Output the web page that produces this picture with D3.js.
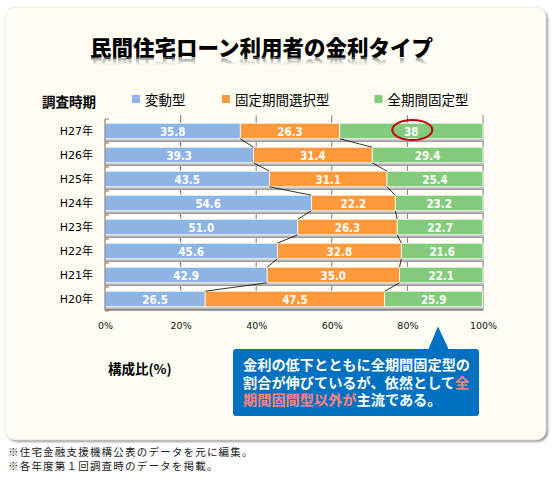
<!DOCTYPE html>
<html><head><meta charset="utf-8">
<script src="https://cdn.jsdelivr.net/npm/d3@7"></script>
<style>
html,body{margin:0;padding:0;background:#fff;}
svg{display:block;}
</style></head>
<body>
<script>
const categories = ["H27年","H26年","H25年","H24年","H23年","H22年","H21年","H20年"];
const seriesNames = ["変動型","固定期間選択型","全期間固定型"];
const variable   = ["35.8","39.3","43.5","54.6","51.0","45.6","42.9","26.5"];
const fixedTerm  = ["26.3","31.4","31.1","22.2","26.3","32.8","35.0","47.5"];
const fullFixed  = ["38","29.4","25.4","23.2","22.7","21.6","22.1","25.9"];
const xTicks = [0,20,40,60,80,100];
const colors = ["#8EB4E3","#FF9A3C","#84CB7E"];
const title = "民間住宅ローン利用者の金利タイプ";
const yTitle = "調査時期";
const xTitle = "構成比(%)";
const noteLines = [
  [{t:"金利の低下とともに全期間固定型の"}],
  [{t:"割合が伸びているが、依然として"},{t:"全",p:1}],
  [{t:"期間固間型以外が",p:1},{t:"主流である。"}]
];
const footnotes = ["※住宅金融支援機構公表のデータを元に編集。","※各年度第１回調査時のデータを掲載。"];

const W=555,H=479;
const JP = "'Noto Sans CJK JP', sans-serif";
const svg = d3.select("body").append("svg").attr("width",W).attr("height",H);
const defs = svg.append("defs");
const f = defs.append("filter").attr("id","sh").attr("x","-5%").attr("y","-5%").attr("width","110%").attr("height","110%");
f.append("feGaussianBlur").attr("stdDeviation",1.2);
const g1 = defs.append("linearGradient").attr("id","fade").attr("x1",0).attr("y1",0).attr("x2",0).attr("y2",1);
g1.append("stop").attr("offset","0").attr("stop-color","#fff").attr("stop-opacity",0.7);
g1.append("stop").attr("offset","0.5").attr("stop-color","#fff").attr("stop-opacity",0);
const mask = defs.append("mask").attr("id","refl").attr("maskContentUnits","userSpaceOnUse");
mask.append("rect").attr("x",0).attr("y",57).attr("width",W).attr("height",16).attr("fill","url(#fade)");

// panel
svg.append("rect").attr("x",7).attr("y",9).attr("width",541).attr("height",433).attr("rx",10)
  .attr("fill","#9a9a9a").attr("filter","url(#sh)");
svg.append("rect").attr("x",5).attr("y",7).attr("width",541).attr("height",433).attr("rx",10)
  .attr("fill","#FEFEF5").attr("stroke","#e4e4dc").attr("stroke-width",0.8);

// title with reflection
svg.append("text").attr("x",261.5).attr("y",56).attr("text-anchor","middle")
  .attr("font-family",JP).attr("font-weight",900).attr("font-size",21.5).attr("fill","#000").text(title);
svg.append("g").attr("mask","url(#refl)").append("text")
  .attr("x",261.5).attr("y",-59).attr("transform","scale(1,-1)").attr("text-anchor","middle")
  .attr("font-family",JP).attr("font-weight",900).attr("font-size",21.5).attr("fill","#666").text(title);

// data
const data = categories.map((c,i)=>({cat:c, vals:[+variable[i],+fixedTerm[i],+fullFixed[i]], labels:[variable[i],fixedTerm[i],fullFixed[i]]}));
data.forEach(d=>{let s=0; d.segs=d.vals.map((v,k)=>{const o={k,x0:s,x1:s+v,label:d.labels[k]}; s+=v; return o;});});

const x = d3.scaleLinear().domain([0,100]).range([105,483]);
const y = d3.scaleBand().domain(categories).range([119,311]).paddingInner(0.35).paddingOuter(0.175);

// gridlines
svg.append("g").selectAll("line").data(xTicks.slice(1)).join("line")
  .attr("x1",d=>x(d)).attr("x2",d=>x(d)).attr("y1",115).attr("y2",310)
  .attr("stroke","#808080").attr("stroke-width",1);

// bar shadows
svg.append("g").selectAll("rect").data(data).join("rect")
  .attr("x",x(0)).attr("y",d=>y(d.cat)+y.bandwidth()).attr("width",x(100)-x(0)).attr("height",3)
  .attr("fill","#c4c4c4");
svg.append("g").selectAll("rect").data(data).join("rect")
  .attr("x",x(0)).attr("y",d=>y(d.cat)+y.bandwidth()+2).attr("width",x(100)-x(0)).attr("height",1.2)
  .attr("fill","#9a9a9a");

// bars
const rows = svg.append("g").selectAll("g").data(data).join("g");
rows.selectAll("rect").data(d=>d.segs.map(s=>({...s,cat:d.cat}))).join("rect")
  .attr("x",s=>x(s.x0)).attr("y",s=>y(s.cat)).attr("width",s=>x(Math.min(s.x1,100))-x(s.x0))
  .attr("height",y.bandwidth()).attr("fill",s=>colors[s.k]).attr("stroke","#fff").attr("stroke-width",0.8);
rows.selectAll("text").data(d=>d.segs.map(s=>({...s,cat:d.cat}))).join("text")
  .attr("x",s=>x((s.x0+Math.min(s.x1,100))/2)).attr("y",s=>y(s.cat)+y.bandwidth()/2+4.6)
  .attr("text-anchor","middle").attr("font-family","'DejaVu Sans Condensed','DejaVu Sans',sans-serif")
  .attr("font-stretch","condensed").attr("font-weight",700).attr("font-size",11.5).attr("fill","#fff")
  .text(s=>s.label);

// series lines
const conn=[];
for(let i=0;i<data.length-1;i++){
  for(let k=0;k<2;k++){
    conn.push({xa:data[i].segs[k].x1, ya:y(data[i].cat)+y.bandwidth(), xb:data[i+1].segs[k].x1, yb:y(data[i+1].cat)});
  }
}
svg.append("g").selectAll("line").data(conn).join("line")
  .attr("x1",d=>x(d.xa)).attr("y1",d=>d.ya).attr("x2",d=>x(d.xb)).attr("y2",d=>d.yb)
  .attr("stroke","#000").attr("stroke-width",0.8);

// axes
svg.append("line").attr("x1",x(0)).attr("x2",x(0)).attr("y1",119).attr("y2",310.5).attr("stroke","#808080").attr("stroke-width",1.2);
svg.append("line").attr("x1",x(0)).attr("x2",x(100)).attr("y1",310).attr("y2",310).attr("stroke","#808080").attr("stroke-width",1.5);
const bounds = d3.range(categories.length+1).map(i=>119+i*y.step());
svg.append("g").selectAll("line").data(bounds).join("line")
  .attr("x1",x(0)).attr("x2",x(0)+4).attr("y1",d=>d).attr("y2",d=>d).attr("stroke","#808080");

const xa = svg.append("g").attr("transform","translate(0,310)")
  .call(d3.axisBottom(x).tickValues(xTicks).tickFormat(d=>d+"%").tickSize(0).tickPadding(12.5));
xa.select(".domain").remove();
xa.selectAll("text").attr("font-family","'DejaVu Sans',sans-serif").attr("font-size",9.5).attr("fill","#111");

const ya = svg.append("g").attr("transform","translate(105,0)")
  .call(d3.axisLeft(y).tickSize(0).tickPadding(12));
ya.select(".domain").remove();
ya.selectAll("text").attr("font-family","'DejaVu Sans','Noto Sans CJK JP',sans-serif").attr("font-size",11).attr("fill","#000");

// axis titles
svg.append("text").attr("x",42).attr("y",107).attr("font-family",JP).attr("font-weight",700).attr("font-size",13.5).text(yTitle);
svg.append("text").attr("x",108).attr("y",374).attr("font-family",JP).attr("font-weight",700).attr("font-size",13.5).text(xTitle);

// legend
const legX=[132,222,374.5];
const lg = svg.append("g").selectAll("g").data(seriesNames).join("g").attr("transform",(d,i)=>`translate(${legX[i]},0)`);
lg.append("rect").attr("x",0).attr("y",95).attr("width",8).attr("height",8).attr("fill",(d,i)=>colors[i]);
lg.append("text").attr("x",13).attr("y",104.5).attr("font-family",JP).attr("font-size",13.5).attr("fill","#000").text(d=>d);

// red ellipse
svg.append("ellipse").attr("cx",x(81.3)).attr("cy",y("H27年")+y.bandwidth()/2-1).attr("rx",20).attr("ry",10)
  .attr("fill","none").attr("stroke","#C0000B").attr("stroke-width",2);

// callout
const cx0=233, cy0=349, cw=246, ch=67;
svg.append("path").attr("d",`M${cx0+195},${cy0+1} L${cx0+205},${cy0-22.5} L${cx0+216},${cy0+1} Z`).attr("fill","#0070C0");
svg.append("rect").attr("x",cx0).attr("y",cy0).attr("width",cw).attr("height",ch).attr("rx",3).attr("fill","#0070C0");
const nt = svg.append("g").selectAll("text").data(noteLines).join("text")
  .attr("x",cx0+10).attr("y",(d,i)=>cy0+21+i*17.5)
  .attr("font-family",JP).attr("font-weight",700).attr("font-size",14.2).attr("fill","#fff");
nt.selectAll("tspan").data(d=>d).join("tspan").attr("fill",d=>d.p?"#FF8585":"#fff").text(d=>d.t);

// footnotes
svg.append("g").selectAll("text").data(footnotes).join("text")
  .attr("x",8).attr("y",(d,i)=>456+i*14).attr("font-family",JP).attr("font-size",10.5)
  .attr("letter-spacing",1.2).attr("fill","#222").text(d=>d);
</script>
</body></html>
